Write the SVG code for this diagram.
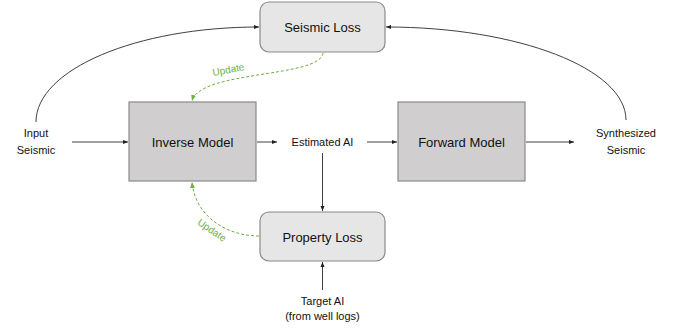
<svg xmlns="http://www.w3.org/2000/svg" width="682" height="330" viewBox="0 0 682 330">
<style>
.box{fill:#d0cece;stroke:#8a8a8a;stroke-width:1.2}
.loss{fill:#e7e6e6;stroke:#8a8a8a;stroke-width:1.2}
.t{font-family:"Liberation Sans",Arial,sans-serif;fill:#111;text-anchor:middle}
.big{font-size:13px}
.sm{font-size:11px}
.con{fill:none;stroke:#404040;stroke-width:1}
.upd{fill:none;stroke:#70ad47;stroke-width:1;stroke-dasharray:3,2}
.ut{font-family:"Liberation Sans",Arial,sans-serif;font-size:10px;fill:#70ad47;text-anchor:middle}
</style>
<defs>
<marker id="ah" viewBox="0 0 10 10" refX="10" refY="5" markerWidth="5" markerHeight="5" orient="auto" markerUnits="userSpaceOnUse"><path d="M0,1 L10,5 L0,9 z" fill="#202020"/></marker>
<marker id="ag" viewBox="0 0 10 10" refX="10" refY="5" markerWidth="6" markerHeight="6" orient="auto" markerUnits="userSpaceOnUse"><path d="M0,1 L10,5 L0,9 z" fill="#70ad47"/></marker>
</defs>
<g id="connectors">
<path class="con" d="M36,122 C36,69.6 136,27 259,27" marker-end="url(#ah)"/>
<path class="con" d="M626,120 C626,68.7 518,27 386,27" marker-end="url(#ah)"/>
<path class="con" d="M72,142 L128,142" marker-end="url(#ah)"/>
<path class="con" d="M257,142 L277,142" marker-end="url(#ah)"/>
<path class="con" d="M367,142 L397,142" marker-end="url(#ah)"/>
<path class="con" d="M526,142 L574,142" marker-end="url(#ah)"/>
<path class="con" d="M322.5,153 L322.5,211" marker-end="url(#ah)"/>
<path class="con" d="M322.5,290 L322.5,262" marker-end="url(#ah)"/>
<path class="upd" d="M323,53 C320,78 200,70 192,101" marker-end="url(#ag)"/>
<path class="upd" d="M259,236 C225,236 195,215 192,182" marker-end="url(#ag)"/>
<text class="ut" transform="translate(229,73) rotate(-11)">Update</text>
<text class="ut" transform="translate(210,233) rotate(34)">Update</text>
</g>
<g id="seismic-loss">
<rect class="loss" x="260" y="2" width="125" height="50" rx="9"/>
<text class="t big" x="322.5" y="31.5">Seismic Loss</text>
</g>
<g id="inverse-model">
<rect class="box" x="129" y="102" width="127" height="79"/>
<text class="t big" x="192.5" y="146.5">Inverse Model</text>
</g>
<g id="forward-model">
<rect class="box" x="398" y="102" width="127" height="79"/>
<text class="t big" x="461.5" y="146.5">Forward Model</text>
</g>
<g id="property-loss">
<rect class="loss" x="260" y="212" width="125" height="49" rx="9"/>
<text class="t big" x="322.5" y="241.5">Property Loss</text>
</g>
<g id="input-seismic">
<text class="t sm" x="36" y="137">Input</text>
<text class="t sm" x="36" y="154">Seismic</text>
</g>
<g id="estimated-ai">
<text class="t sm" x="322.5" y="146">Estimated AI</text>
</g>
<g id="synthesized-seismic">
<text class="t sm" x="626" y="137">Synthesized</text>
<text class="t sm" x="626" y="154">Seismic</text>
</g>
<g id="target-ai">
<text class="t sm" x="322.5" y="305">Target AI</text>
<text class="t sm" x="322.5" y="320">(from well logs)</text>
</g>
</svg>
